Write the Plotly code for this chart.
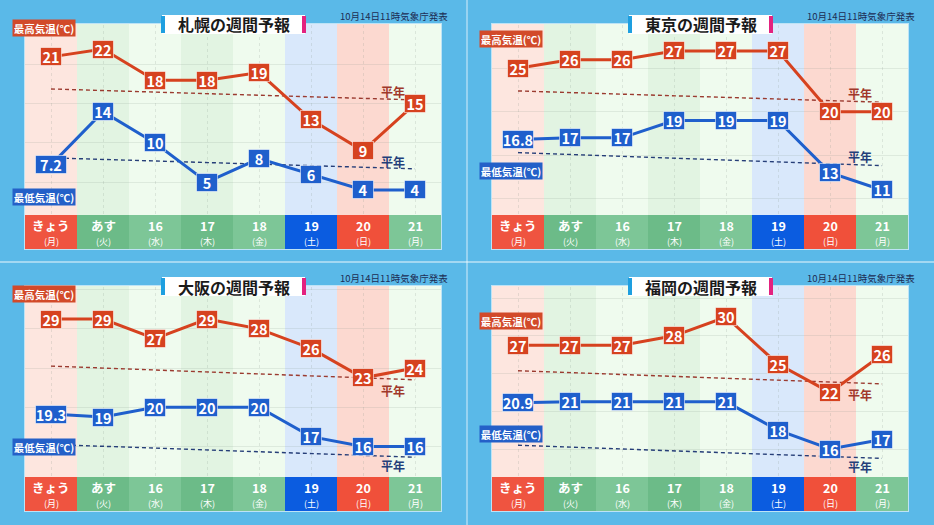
import plotly.graph_objects as go

# ---------------- data ----------------
days = ["きょう", "あす", "16", "17", "18", "19", "20", "21"]
weekdays = ["(月)", "(火)", "(水)", "(木)", "(金)", "(土)", "(日)", "(月)"]
cities = ["札幌", "東京", "大阪", "福岡"]
issued = "10月14日11時気象庁発表"

sapporo_high = [21, 22, 18, 18, 19, 13, 9, 15]
sapporo_low = [7.2, 14, 10, 5, 8, 6, 4, 4]
tokyo_high = [25, 26, 26, 27, 27, 27, 20, 20]
tokyo_low = [16.8, 17, 17, 19, 19, 19, 13, 11]
osaka_high = [29, 29, 27, 29, 28, 26, 23, 24]
osaka_low = [19.3, 19, 20, 20, 20, 17, 16, 16]
fukuoka_high = [27, 27, 27, 28, 30, 25, 22, 26]
fukuoka_low = [20.9, 21, 21, 21, 21, 18, 16, 17]

# normal (平年) lines: value at first day and last day
sapporo_normal_high = [16.9, 15.5]
sapporo_normal_low = [8.1, 6.7]
tokyo_normal_high = [22.4, 21.1]
tokyo_normal_low = [15.3, 13.8]
osaka_normal_high = [24.2, 22.8]
osaka_normal_low = [16.2, 14.9]
fukuoka_normal_high = [24.3, 22.9]
fukuoka_normal_low = [16.4, 15.0]

highs = [sapporo_high, tokyo_high, osaka_high, fukuoka_high]
lows = [sapporo_low, tokyo_low, osaka_low, fukuoka_low]
n_highs = [sapporo_normal_high, tokyo_normal_high, osaka_normal_high, fukuoka_normal_high]
n_lows = [sapporo_normal_low, tokyo_normal_low, osaka_normal_low, fukuoka_normal_low]

# ---------------- layout / style ----------------
W, H = 934, 525
FONT = "Noto Sans CJK JP"
y_ranges = [[0.8, 25.07], [8.12, 29.99], [12.88, 32.27], [13.03, 33.18]]
y_dticks = [5, 5, 4, 4]
offsets = [(0, 0), (467, 0), (0, 262), (467, 262)]
# label box (最高/最低) vertical positions in panel px
hi_label_y = [28, 39, 32, 59]
lo_label_y = [197, 171, 185, 172]
# 平年 label positions in panel px
nh_label_y = [92, 94, 128, 132]
nl_label_y = [161, 157, 203, 204]

RED = "#d6421f"
BLUE = "#1f5fcc"
col_bg = ["#fde6df", "#e2f4e2", "#effbee", "#e2f4e2", "#effbee", "#d9e8fb", "#fcd9d0", "#effbee"]
row_bg = ["#ef5440", "#6cbb88", "#7dc697", "#6cbb88", "#7dc697", "#0b5ce0", "#f0503a", "#7dc697"]


def px(x):
    return x / W


def py(y):
    return 1 - y / H


def ann(**kw):
    d = dict(showarrow=False, xanchor="center", yanchor="middle")
    d.update(kw)
    return d


fig = go.Figure()
shapes = []
annotations = []

for k in range(4):
    ox, oy = offsets[k]
    sfx = "" if k == 0 else str(k + 1)
    xa, ya = "x" + sfx, "y" + sfx

    fig.update_layout(**{
        "xaxis" + sfx: dict(domain=[px(ox + 25), px(ox + 441)], range=[-0.5, 7.5],
                            anchor=ya, showticklabels=False, tickvals=list(range(8)),
                            showgrid=True, gridcolor="rgba(120,140,130,0.18)", griddash="dot",
                            zeroline=False, showline=False, fixedrange=True),
        "yaxis" + sfx: dict(domain=[py(oy + 215), py(oy + 25)], range=y_ranges[k],
                            anchor=xa, showticklabels=False, dtick=y_dticks[k],
                            showgrid=True, gridcolor="rgba(120,140,130,0.15)",
                            zeroline=False, showline=False, fixedrange=True),
    })

    # chart area panel frame (white-ish)
    shapes.append(dict(type="rect", xref="paper", yref="paper",
                       x0=px(ox + 24), x1=px(ox + 442), y0=py(oy + 250), y1=py(oy + 23),
                       fillcolor="rgba(255,255,255,0.6)", line=dict(width=0), layer="below"))
    # column backgrounds
    for i in range(8):
        shapes.append(dict(type="rect", xref=xa, yref="paper",
                           x0=i - 0.5, x1=i + 0.5, y0=py(oy + 215), y1=py(oy + 24),
                           fillcolor=col_bg[i], line=dict(width=0), layer="below"))
        # date row
        shapes.append(dict(type="rect", xref=xa, yref="paper",
                           x0=i - 0.5, x1=i + 0.5, y0=py(oy + 249), y1=py(oy + 215),
                           fillcolor=row_bg[i], line=dict(width=0), layer="below"))
        annotations.append(ann(x=i, y=py(oy + 225), xref=xa, yref="paper",
                               text="<b>" + days[i] + "</b>",
                               font=dict(family=FONT, size=12.5, color="white")))
        annotations.append(ann(x=i, y=py(oy + 241), xref=xa, yref="paper",
                               text=weekdays[i],
                               font=dict(family=FONT, size=9, color="white")))

    # normal lines
    fig.add_trace(go.Scatter(x=[0, 7], y=n_highs[k], xaxis=xa, yaxis=ya, mode="lines",
                             line=dict(color="#9b3b30", width=1.4, dash="4px,3px"),
                             hoverinfo="skip", showlegend=False))
    fig.add_trace(go.Scatter(x=[0, 7], y=n_lows[k], xaxis=xa, yaxis=ya, mode="lines",
                             line=dict(color="#263e78", width=1.4, dash="4px,3px"),
                             hoverinfo="skip", showlegend=False))
    # data lines
    fig.add_trace(go.Scatter(x=list(range(8)), y=highs[k], xaxis=xa, yaxis=ya, mode="lines",
                             line=dict(color=RED, width=3), hoverinfo="skip", showlegend=False))
    fig.add_trace(go.Scatter(x=list(range(8)), y=lows[k], xaxis=xa, yaxis=ya, mode="lines",
                             line=dict(color=BLUE, width=3), hoverinfo="skip", showlegend=False))

    # value boxes
    for vals, colr in ((highs[k], RED), (lows[k], BLUE)):
        for i, v in enumerate(vals):
            txt = f"{v:g}"
            w = 30 if "." in txt else 20
            annotations.append(ann(x=i, y=v, xref=xa, yref=ya, text="<b>" + txt + "</b>",
                                   width=w, height=17, bgcolor=colr,
                                   bordercolor="rgba(255,255,255,0.55)", borderwidth=1,
                                   borderpad=0,
                                   font=dict(family=FONT, size=14.5, color="white")))

    # 最高/最低 label boxes
    annotations.append(ann(x=px(ox + 43.5), y=py(oy + hi_label_y[k]), xref="paper", yref="paper",
                           text="<b>最高気温(℃)</b>", width=60, height=14,
                           bgcolor="#d24a2a", borderpad=1,
                           font=dict(family=FONT, size=10.5, color="white")))
    annotations.append(ann(x=px(ox + 43.5), y=py(oy + lo_label_y[k]), xref="paper", yref="paper",
                           text="<b>最低気温(℃)</b>", width=60, height=14,
                           bgcolor="#2460c8", borderpad=1,
                           font=dict(family=FONT, size=10.5, color="white")))
    # 平年 labels
    annotations.append(ann(x=px(ox + 393), y=py(oy + nh_label_y[k]), xref="paper", yref="paper",
                           text="<b>平年</b>",
                           font=dict(family=FONT, size=12, color="#a0382a")))
    annotations.append(ann(x=px(ox + 393), y=py(oy + nl_label_y[k]), xref="paper", yref="paper",
                           text="<b>平年</b>",
                           font=dict(family=FONT, size=12, color="#233f7a")))

    # title box
    shapes.append(dict(type="rect", xref="paper", yref="paper",
                       x0=px(ox + 162), x1=px(ox + 305), y0=py(oy + 34), y1=py(oy + 15),
                       fillcolor="white", line=dict(width=0), layer="above"))
    shapes.append(dict(type="rect", xref="paper", yref="paper",
                       x0=px(ox + 161), x1=px(ox + 165), y0=py(oy + 33), y1=py(oy + 16),
                       fillcolor="#1e9fe0", line=dict(width=0), layer="above"))
    shapes.append(dict(type="rect", xref="paper", yref="paper",
                       x0=px(ox + 302), x1=px(ox + 306), y0=py(oy + 33), y1=py(oy + 16),
                       fillcolor="#e3227f", line=dict(width=0), layer="above"))
    annotations.append(ann(x=px(ox + 233.5), y=py(oy + 24.5), xref="paper", yref="paper",
                           text="<b>" + cities[k] + "の週間予報</b>",
                           font=dict(family=FONT, size=16, color="#1a1a1a")))
    annotations.append(ann(x=px(ox + 394), y=py(oy + 16), xref="paper", yref="paper",
                           text=issued,
                           font=dict(family=FONT, size=9.5, color="#1d2d55")))

# panel separators
shapes.append(dict(type="line", xref="paper", yref="paper", x0=0, x1=1, y0=py(262), y1=py(262),
                   line=dict(color="rgba(255,255,255,0.6)", width=1.5), layer="below"))
shapes.append(dict(type="line", xref="paper", yref="paper", x0=px(467), x1=px(467), y0=0, y1=1,
                   line=dict(color="rgba(255,255,255,0.5)", width=1.5), layer="below"))

fig.update_layout(width=W, height=H, margin=dict(l=0, r=0, t=0, b=0),
                  paper_bgcolor="#5ab9e8", plot_bgcolor="rgba(0,0,0,0)",
                  shapes=shapes, annotations=annotations, showlegend=False,
                  font=dict(family=FONT))

fig.write_html("out.html", config={"displayModeBar": False})
